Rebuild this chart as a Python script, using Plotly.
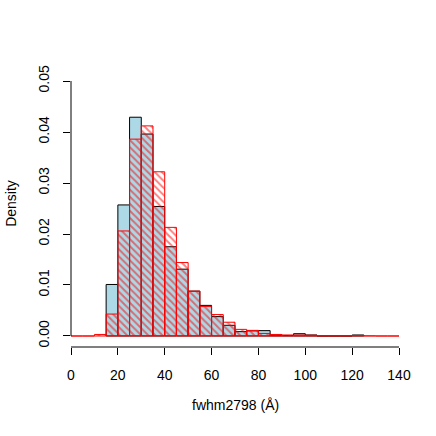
import plotly.graph_objects as go

# bin edges are every 5 units
bin_width = 5
red_left = list(range(0, 140, 5))
red_density = [0, 0, 0.0003, 0.0043, 0.0206, 0.0386, 0.0412, 0.0322, 0.0213, 0.0144,
               0.0088, 0.0058, 0.0042, 0.0027, 0.0013, 0.0011, 0.0005, 0.0003, 0.0002, 0.0002,
               0.00015, 0.00005, 0.00005, 0.00005, 0.0001, 0.00003, 0, 0]
blue_left = list(range(15, 125, 5))
blue_density = [0.0101, 0.0257, 0.0429, 0.0396, 0.0254, 0.0175, 0.0131, 0.0088, 0.0060, 0.0038,
                0.0021, 0.00085, 0.0010, 0.00105, 0.0002, 0.0001, 0.00045, 0.0002, 0, 0,
                0, 0.0002]
x_ticks = [0, 20, 40, 60, 80, 100, 120, 140]
y_ticks = [0, 0.01, 0.02, 0.03, 0.04, 0.05]
y_labels = ['0.00', '0.01', '0.02', '0.03', '0.04', '0.05']

font = 'Liberation Sans, Arial, sans-serif'

fig = go.Figure()
fig.add_trace(go.Bar(x=blue_left, y=blue_density, width=bin_width, offset=0,
                     marker=dict(color='#ADD8E6', line=dict(color='black', width=1))))
fig.add_trace(go.Bar(x=red_left, y=red_density, width=bin_width, offset=0,
                     marker=dict(color='rgba(0,0,0,0)', line=dict(color='red', width=1),
                                 pattern=dict(shape='\\', fgcolor='red', bgcolor='rgba(0,0,0,0)',
                                              size=5, solidity=0.4))))

fig.update_layout(width=436, height=436, barmode='overlay', showlegend=False,
                  plot_bgcolor='white', paper_bgcolor='white',
                  margin=dict(l=71, r=37, t=60, b=89),
                  font=dict(family=font, size=14, color='black'))
fig.update_xaxes(range=[0, 140], showgrid=False, zeroline=False, showline=False,
                 automargin=False,
                 tickmode='array', tickvals=x_ticks, ticks='outside', ticklen=7,
                 tickcolor='black', ticklabelstandoff=8)
fig.update_yaxes(range=[-0.00216, 0.05412], showgrid=False, zeroline=False, showline=False,
                 automargin=False,
                 tickmode='array', tickvals=y_ticks, ticktext=y_labels, ticks='outside',
                 ticklen=7, tickcolor='black', tickangle=-90, ticklabelstandoff=8)

# axis lines only span the tick range, like base R
fig.add_shape(type='line', xref='paper', yref='y', x0=0, x1=0, y0=0, y1=0.05,
              line=dict(color='black', width=1))
fig.add_shape(type='line', xref='paper', yref='paper', x0=0, x1=1, y0=0, y1=0,
              line=dict(color='black', width=1))

fig.add_annotation(text='fwhm2798 (Å)', xref='paper', yref='paper', x=0.5, y=-0.203,
                   showarrow=False, yanchor='middle')
fig.add_annotation(text='Density', xref='paper', yref='paper', x=-0.185, y=0.5,
                   showarrow=False, textangle=-90, xanchor='center')

# drop the default body margin so the figure sits at the window corner
fig.write_html("out.html", config={'displayModeBar': False},
               post_script="document.body.style.margin='0';")
